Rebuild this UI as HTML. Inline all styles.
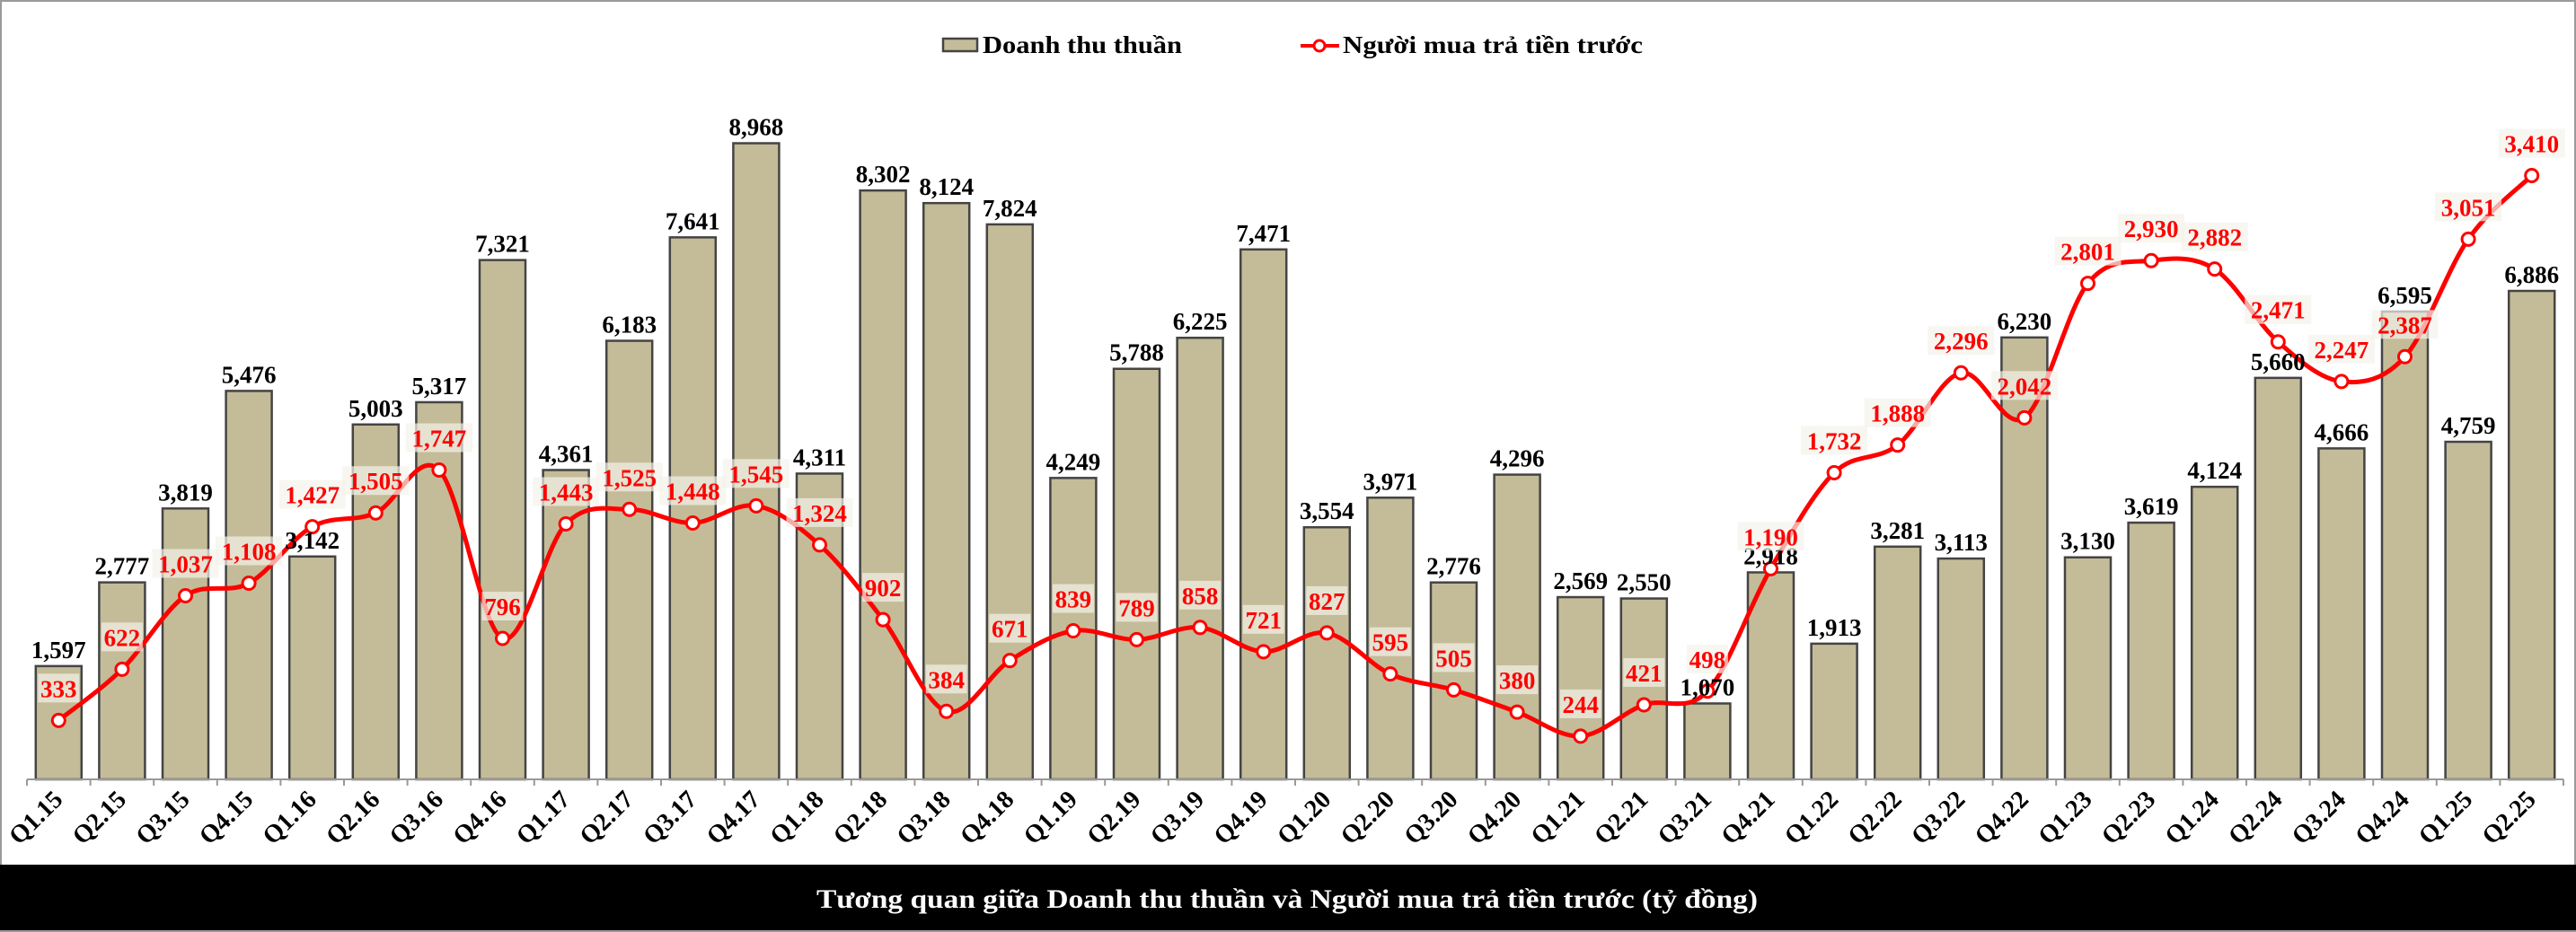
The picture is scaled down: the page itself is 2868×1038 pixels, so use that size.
<!DOCTYPE html>
<html><head><meta charset="utf-8"><style>
html,body{margin:0;padding:0;background:#fff}
svg{display:block;font-family:"Liberation Serif","DejaVu Serif",serif;font-weight:bold}
</style></head><body>
<svg id="chart" width="2868" height="1038" viewBox="0 0 2868 1038" xmlns="http://www.w3.org/2000/svg">
<rect x="1" y="1" width="2866" height="1036" fill="#fff" stroke="#9a9a9a" stroke-width="2"/>
<g>
 <g>
  <rect x="1050" y="43" width="38" height="14" fill="#c4bc98" stroke="#444" stroke-width="2.5"/>
  <text x="1094" y="59" font-size="27" fill="#000" textLength="222" lengthAdjust="spacingAndGlyphs">Doanh thu thuần</text>
 </g>
 <g>
  <line x1="1448" y1="51" x2="1491" y2="51" stroke="#ff0000" stroke-width="4"/>
  <circle cx="1469" cy="51" r="6" fill="#fff" stroke="#ff0000" stroke-width="3"/>
  <text x="1495" y="59" font-size="27" fill="#000" textLength="334" lengthAdjust="spacingAndGlyphs">Người mua trả tiền trước</text>
 </g>
</g>
<g id="bars"></g>
<g id="axis"></g>
<g id="line"></g>
<g id="barlabels"></g>
<g id="linelabels"></g>
<rect x="0" y="963" width="2868" height="73" fill="#000"/>
<text x="909" y="1011" font-size="30" fill="#fff" textLength="1048" lengthAdjust="spacingAndGlyphs">Tương quan giữa Doanh thu thuần và Người mua trả tiền trước (tỷ đồng)</text>
</svg>
<script>
const categories=["Q1.15","Q2.15","Q3.15","Q4.15","Q1.16","Q2.16","Q3.16","Q4.16","Q1.17","Q2.17","Q3.17","Q4.17","Q1.18","Q2.18","Q3.18","Q4.18","Q1.19","Q2.19","Q3.19","Q4.19","Q1.20","Q2.20","Q3.20","Q4.20","Q1.21","Q2.21","Q3.21","Q4.21","Q1.22","Q2.22","Q3.22","Q4.22","Q1.23","Q2.23","Q1.24","Q2.24","Q3.24","Q4.24","Q1.25","Q2.25"];
const revenue=[1597,2777,3819,5476,3142,5003,5317,7321,4361,6183,7641,8968,4311,8302,8124,7824,4249,5788,6225,7471,3554,3971,2776,4296,2569,2550,1070,2918,1913,3281,3113,6230,3130,3619,4124,5660,4666,6595,4759,6886];
const prepayment=[333,622,1037,1108,1427,1505,1747,796,1443,1525,1448,1545,1324,902,384,671,839,789,858,721,827,595,505,380,244,421,498,1190,1732,1888,2296,2042,2801,2930,2882,2471,2247,2387,3051,3410];

const NS="http://www.w3.org/2000/svg";
const X0=30,X1=2854,BASE=868;
const step=(X1-X0)/categories.length;
function xc(i){return X0+step*(i+0.5);}
function yBar(v){return BASE-v*0.0790;}
function yLine(v){return BASE-v*0.1972;}
function fmt(v){return v.toLocaleString("en-US");}
function mk(tag,attrs,parent){const e=document.createElementNS(NS,tag);for(const k in attrs)e.setAttribute(k,attrs[k]);parent.appendChild(e);return e;}

const gB=document.getElementById("bars"),gA=document.getElementById("axis"),gL=document.getElementById("line"),gBL=document.getElementById("barlabels"),gLL=document.getElementById("linelabels");
const bw=51;
revenue.forEach((v,i)=>{
 const r=mk("rect",{x:xc(i)-bw/2,y:yBar(v),width:bw,height:BASE-yBar(v),fill:"#c4bc98",stroke:"#444","stroke-width":2.5},gB);
 
 
 const t=mk("text",{x:xc(i),y:yBar(v)-9,"font-size":27,fill:"#000","text-anchor":"middle"},gBL);
 t.textContent=fmt(v);
 
 
});
const al=mk("line",{x1:X0,y1:BASE,x2:X1,y2:BASE,stroke:"#999","stroke-width":2},gA);


for(let i=0;i<=categories.length;i++){
 const tk=mk("line",{x1:X0+step*i,y1:BASE,x2:X0+step*i,y2:BASE+7,stroke:"#999","stroke-width":2},gA);
 
 
}
categories.forEach((c,i)=>{
 const x=xc(i)+6,y=892;
 const t=mk("text",{x:x,y:y,"font-size":28,fill:"#000","text-anchor":"end",transform:`rotate(-45 ${x} ${y})`},gA);
 t.textContent=c;
 
 
});
const pts=prepayment.map((v,i)=>[xc(i),yLine(v)]);
let d=`M${pts[0][0]},${pts[0][1]}`;
for(let i=0;i<pts.length-1;i++){
 const p0=pts[i-1]||pts[i],p1=pts[i],p2=pts[i+1],p3=pts[i+2]||pts[i+1];
 const t=1/6;
 d+=` C${p1[0]+(p2[0]-p0[0])*t},${p1[1]+(p2[1]-p0[1])*t} ${p2[0]-(p3[0]-p1[0])*t},${p2[1]-(p3[1]-p1[1])*t} ${p2[0]},${p2[1]}`;
}
const path=mk("path",{d:d,fill:"none",stroke:"#ff0000","stroke-width":5},gL);


prepayment.forEach((v,i)=>{
 const c=mk("circle",{cx:xc(i),cy:yLine(v),r:7,fill:"#fff",stroke:"#ff0000","stroke-width":3},gL);
 
 
 const w=fmt(v).length*14+4;
 const bg=mk("rect",{x:xc(i)-w/2,y:yLine(v)-52,width:w,height:32,fill:"#f4f2ea","fill-opacity":0.7},gLL);
 
 
 const t=mk("text",{x:xc(i),y:yLine(v)-26,"font-size":27,fill:"#ff0000","text-anchor":"middle"},gLL);
 t.textContent=fmt(v);
 
 
});
</script>
</body></html>
